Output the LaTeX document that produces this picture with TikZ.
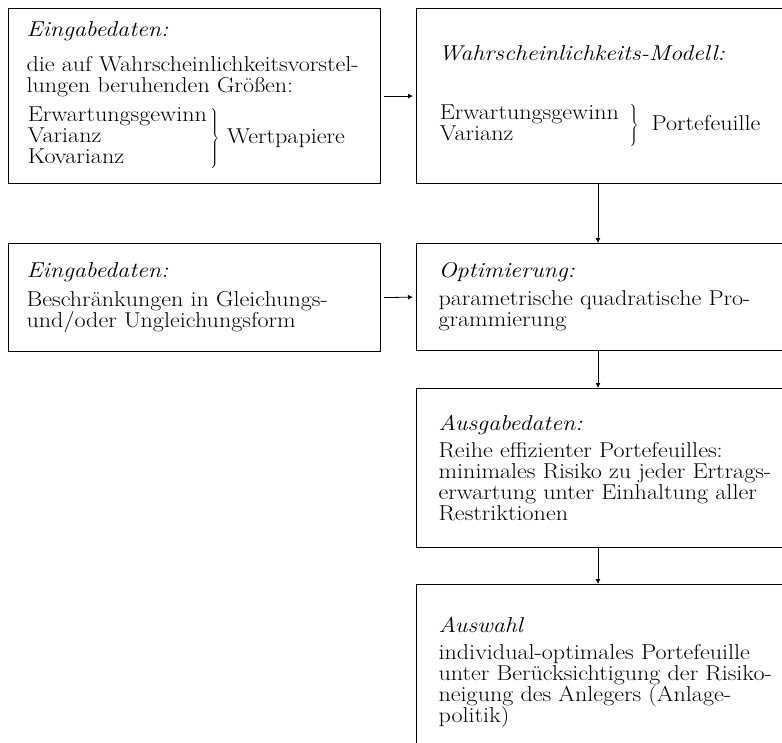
\documentclass[tikz,border=0pt]{standalone}
\usepackage{fontspec}
\setmainfont{Latin Modern Roman}[FakeStretch=1.12]
\usetikzlibrary{arrows.meta}
\newcommand{\kastenschrift}{\fontsize{21.5}{21}\selectfont\lineskiplimit=-\maxdimen\lineskip=0pt\relax}
\newcommand{\klammergruppe}[2]{$\lineskiplimit=0pt\relax\left.\begin{tabular}{@{}l@{}}#1\end{tabular}#2\right\}$}

\begin{document}
\begin{tikzpicture}[x=1pt, y=-1pt,
		every node/.style={font=\kastenschrift},
		kasten/.style={draw, line width=1.2pt, rectangle, anchor=north west, align=left, inner ysep=0pt},
		links/.style={kasten, inner xsep=18pt, text width=336pt},
		rechts/.style={kasten, inner xsep=22pt, text width=350pt},
		pfeil/.style={-{Latex[length=5pt,width=5pt]}, line width=0.8pt}]
		\useasboundingbox (0,0) rectangle (782,742);
		\clip (0,0) rectangle (782,742);
		\coordinate (mitte) at (598,0);
		
		% linke Spalte
		\node[links, minimum height=175pt] (A) at (8,8) {\textit{Eingabedaten:}\\[14pt]
			die auf Wahrscheinlichkeitsvorstel-\\
			lungen beruhenden Größen:\\[30pt]
			\klammergruppe{Erwartungsgewinn\\ Varianz\\ Kovarianz}{\,}\hspace{8pt}Wertpapiere};
		\node[links, minimum height=108pt] (C) at (8,243) {\textit{Eingabedaten:}\\[8pt]
			Beschränkungen in Gleichungs-\\
			und/oder Ungleichungsform};
		
		% rechte Spalte
		\node[rechts, minimum height=175pt] (B) at (416,8) {\textit{Wahrscheinlichkeits-Modell:}\\[49pt]
			\klammergruppe{Erwartungsgewinn\\ Varianz}{\enskip}\hspace{13pt}Portefeuille};
		\node[rechts, minimum height=107pt] (D) at (416,243) {\textit{Optimierung:}\\[7pt]
			parametrische quadratische Pro-\\
			grammierung};
		\node[rechts, minimum height=159pt] (E) at (416,388) {\textit{Ausgabedaten:}\\[6pt]
			Reihe effizienter Portefeuilles:\\
			minimales Risiko zu jeder Ertrags-\\
			erwartung unter Einhaltung aller\\
			Restriktionen};
		\node[rechts, minimum height=175pt] (F) at (416,584) {\textit{Auswahl}\\[6pt]
			individual-optimales Portefeuille\\
			unter Berücksichtigung der Risiko-\\
			neigung des Anlegers (Anlage-\\
			politik)};
		
		\draw[pfeil, shorten <=3pt, shorten >=3pt] (A.east) -- (B.west);
		\draw[pfeil, shorten <=3pt, shorten >=3pt] (C.east) -- (D.west);
		\draw[pfeil] (B.south -| mitte) -- (D.north -| mitte);
		\draw[pfeil] (D.south -| mitte) -- (E.north -| mitte);
		\draw[pfeil] (E.south -| mitte) -- (F.north -| mitte);
\end{tikzpicture}
\end{document}
